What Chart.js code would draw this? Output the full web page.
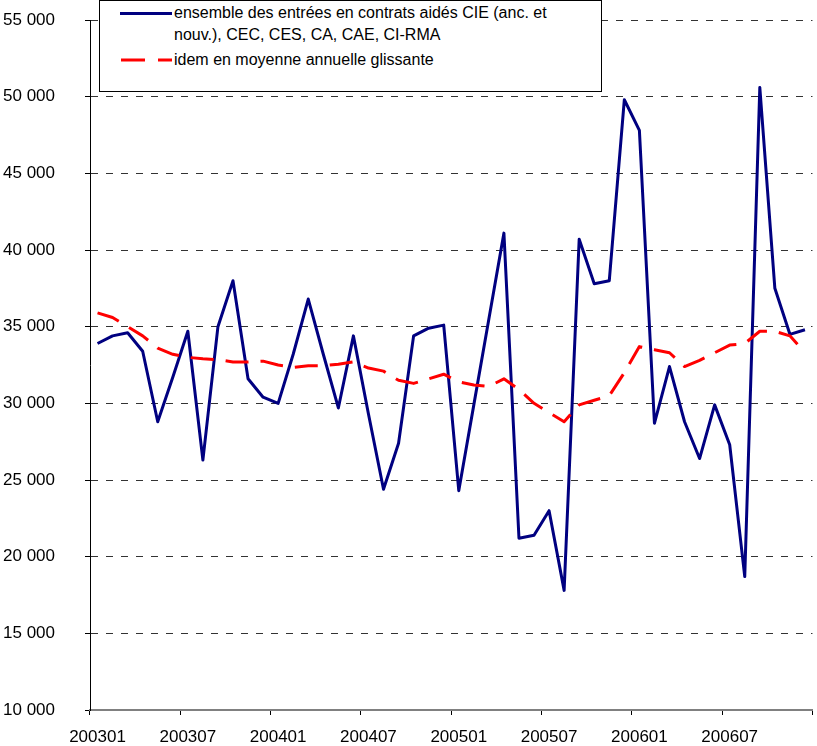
<!DOCTYPE html>
<html>
<head>
<meta charset="utf-8">
<script src="https://cdn.jsdelivr.net/npm/chart.js@4/dist/chart.umd.min.js"></script>
<style>
html,body{margin:0;padding:0;background:#fff;}
#wrap{position:relative;width:817px;height:746px;overflow:hidden;}
#c{position:absolute;left:0;top:0;}
#legend{position:absolute;left:99px;top:0;width:503px;height:92px;border:1px solid #000;background:#fff;box-sizing:border-box;}
.lt{position:absolute;left:174px;font-family:"Liberation Sans",Arial,sans-serif;font-size:16px;line-height:22px;color:#000;white-space:nowrap;}
#lsvg{position:absolute;left:0;top:0;}
</style>
</head>
<body>
<div id="wrap">
<canvas id="c" width="817" height="746"></canvas>
<div id="legend"></div>
<svg id="lsvg" width="200" height="92">
  <line x1="120" y1="13.5" x2="172" y2="13.5" stroke="#000080" stroke-width="3"/>
  <line x1="121" y1="60" x2="172" y2="60" stroke="#FF0000" stroke-width="3" stroke-dasharray="24 13"/>
</svg>
<div class="lt" style="top:2px;">ensemble des entrées en contrats aidés CIE (anc. et<br>nouv.), CEC, CES, CA, CAE, CI-RMA</div>
<div class="lt" style="top:49px;">idem en moyenne annuelle glissante</div>
</div>
<script>
const months = ['200301','200302','200303','200304','200305','200306','200307','200308','200309','200310','200311','200312',
  '200401','200402','200403','200404','200405','200406','200407','200408','200409','200410','200411','200412',
  '200501','200502','200503','200504','200505','200506','200507','200508','200509','200510','200511','200512',
  '200601','200602','200603','200604','200605','200606','200607','200608','200609','200610','200611','200612'];

const entries = [33900, 34400, 34600, 33400, 28800, 31700, 34700, 26300, 35000, 38000, 31600, 30400,
  30000, 33200, 36800, 33200, 29700, 34400, 29300, 24400, 27400, 34400, 34900, 35100,
  24300, 29900, 35500, 41100, 21200, 21400, 23000, 17800, 40700, 37800, 38000, 49800,
  47800, 28700, 32400, 28800, 26400, 29900, 27300, 18700, 50600, 37500, 34500, 34800];

const movingAvg = [35900, 35600, 35000, 34400, 33600, 33200, 33000, 32900, 32850, 32700, 32700, 32750,
  32500, 32350, 32450, 32450, 32550, 32700, 32300, 32100, 31500, 31300, 31600, 31900,
  31400, 31200, 31100, 31600, 30900, 30000, 29400, 28800, 29900, 30200, 30500, 32000,
  33700, 33500, 33300, 32400, 32800, 33300, 33800, 33900, 34700, 34700, 34400, 33300];

const seriesNames = ['ensemble des entrées en contrats aidés CIE (anc. et nouv.), CEC, CES, CA, CAE, CI-RMA',
  'idem en moyenne annuelle glissante'];

const yMin = 10000, yMax = 55000, yStep = 5000;
const labelEvery = 6;

const FONT = {family: '"Liberation Sans", Arial, sans-serif', size: 17};
const fmt = v => String(v).replace(/\B(?=(\d{3})+(?!\d))/g, ' ');

new Chart(document.getElementById('c').getContext('2d'), {
  type: 'line',
  data: {
    labels: months,
    datasets: [
      {label: seriesNames[0], data: entries, borderColor: '#000080', borderWidth: 3,
       pointRadius: 0, tension: 0, fill: false, order: 1, borderJoinStyle: 'round'},
      {label: seriesNames[1], data: movingAvg, borderColor: '#FF0000', borderWidth: 3,
       borderDash: [23, 12], pointRadius: 0, tension: 0, fill: false, order: 0, borderJoinStyle: 'round'}
    ]
  },
  options: {
    responsive: false,
    animation: false,
    devicePixelRatio: 1,
    layout: {padding: {top: 20, right: 4, left: 3, bottom: 0}},
    plugins: {legend: {display: false}, tooltip: {enabled: false}},
    scales: {
      x: {
        type: 'category',
        offset: true,
        grid: {
          offset: true,
          drawOnChartArea: false,
          drawTicks: true,
          tickLength: 5,
          color: 'rgba(0,0,0,0)',
          lineWidth: 1,
          tickWidth: 1,
          tickColor: c => (c.index === undefined || c.index % labelEvery === 0) ? '#000' : 'rgba(0,0,0,0)'
        },
        border: {display: true, color: '#808080', width: 2},
        ticks: {
          autoSkip: false, maxRotation: 0, minRotation: 0, padding: 12,
          font: FONT, color: '#000',
          callback: (v, i) => (i % labelEvery === 0 ? months[i] : '')
        },
        afterFit: s => { s.height = 36; }
      },
      y: {
        min: yMin, max: yMax,
        ticks: {stepSize: yStep, padding: 4, crossAlign: 'far', font: FONT, color: '#000', callback: v => fmt(v)},
        grid: {
          color: c => (c.tick && c.tick.value === yMin) ? 'rgba(0,0,0,0)' : '#333',
          lineWidth: 1,
          tickLength: 5,
          tickColor: '#000'
        },
        border: {display: true, color: '#000', width: 1, dash: [7, 8]},
        afterFit: s => { s.width = 87; }
      }
    }
  }
});
</script>
</body>
</html>
